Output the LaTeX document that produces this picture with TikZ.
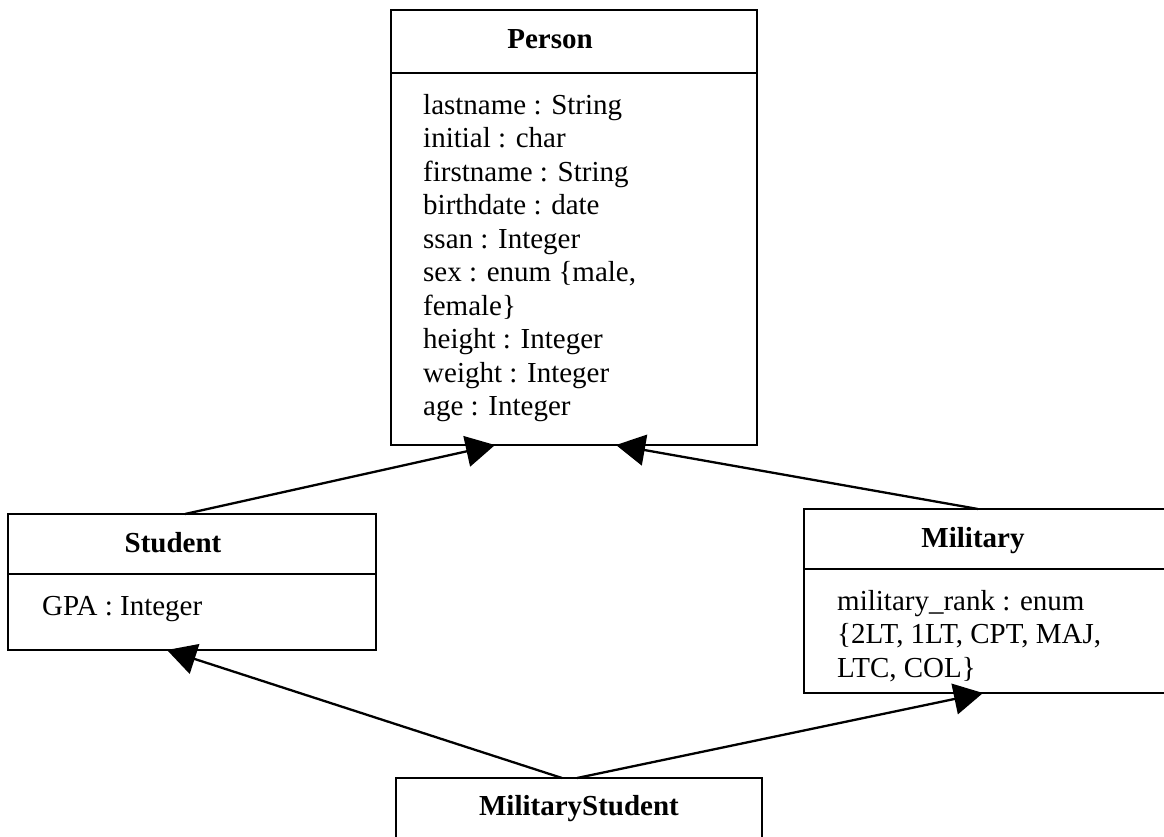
\documentclass[tikz,border=0pt]{standalone}
\usepackage{fontspec}
\setmainfont{Liberation Serif}
\usetikzlibrary{arrows.meta,calc}
\tikzset{
  umlbox/.style={draw, line width=2pt, rectangle, inner sep=0pt, outer sep=0pt},
  divider/.style={line width=2pt},
  classname/.style={font=\fontsize{29}{33.5}\selectfont\bfseries, anchor=base, inner sep=0pt},
  attrs/.style={font=\fontsize{29}{33.5}\selectfont, anchor=base west, inner sep=0pt},
  gen/.style={line width=2.3pt, -{Triangle[length=29pt,width=31pt]}},
}
\newcommand{\attrlist}[1]{\parbox[t]{330pt}{\raggedright #1}}
\begin{document}
\begin{tikzpicture}[x=1pt, y=-1pt]
  \useasboundingbox (0,0) rectangle (1164,836);
  \clip (0,0) rectangle (1164,836);

  % class boxes
  \node[umlbox, minimum width=366pt, minimum height=435pt] (person)   at (574,227.5) {};
  \node[umlbox, minimum width=368pt, minimum height=136pt] (student)  at (192,582) {};
  \node[umlbox, minimum width=366pt, minimum height=184pt] (military) at (987,601) {};
  \node[umlbox, minimum width=366pt, minimum height=122pt] (milstud)  at (579,839) {};

  % compartment dividers
  \draw[divider] (391,73)  -- (757,73);
  \draw[divider] (8,574)   -- (376,574);
  \draw[divider] (804,569) -- (1170,569);

  % class names
  \node[classname] (personName)   at (550,48)  {Person};
  \node[classname] (studentName)  at (173,552) {Student};
  \node[classname] (militaryName) at (973,547) {Military};
  \node[classname] (milstudName)  at (579,815) {MilitaryStudent};

  % attributes
  \node[attrs] (personAttr) at (423,114) {\attrlist{%
    lastname : String\\
    initial : char\\
    firstname : String\\
    birthdate : date\\
    ssan : Integer\\
    sex : enum \{male,\\
    female\}\\
    height : Integer\\
    weight : Integer\\
    age : Integer}};
  \node[attrs] (studentAttr) at (42,615) {\attrlist{GPA : Integer}};
  \node[attrs] (militaryAttr) at (837,610) {\attrlist{%
    military\_rank : enum\\
    \{2LT, 1LT, CPT, MAJ,\\
    LTC, COL\}}};

  % connector end points on the box borders
  \coordinate (stuTop)   at ($(student.north west)+(177,0)$);
  \coordinate (stuBot)   at ($(student.south west)+(159,0)$);
  \coordinate (perBotL)  at ($(person.south west)+(104,0)$);
  \coordinate (perBotR)  at ($(person.south west)+(225,0)$);
  \coordinate (milTop)   at ($(military.north west)+(174,0)$);
  \coordinate (milBot)   at ($(military.south west)+(179,0)$);
  \coordinate (msTopL)   at ($(milstud.north west)+(166,0)$);
  \coordinate (msTopR)   at ($(milstud.north west)+(181,0)$);

  % generalisation arrows
  \draw[gen] (stuTop) -- (perBotL);
  \draw[gen] (milTop) -- (perBotR);
  \draw[gen] (msTopL) -- (stuBot);
  \draw[gen] (msTopR) -- (milBot);
\end{tikzpicture}
\end{document}
